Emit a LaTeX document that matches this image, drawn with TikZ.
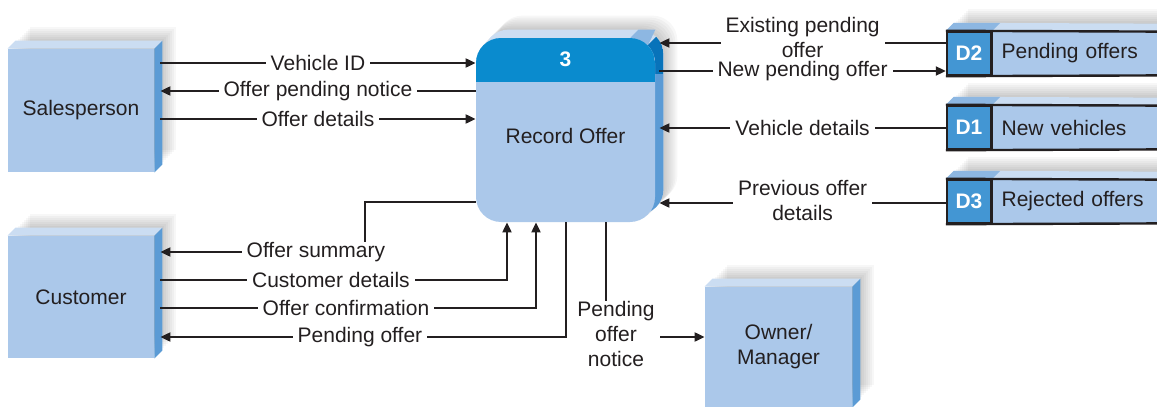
\documentclass[tikz,border=0pt]{standalone}
\usepackage{fontspec}
\setmainfont{Liberation Sans}
\usetikzlibrary{positioning,arrows.meta,backgrounds}

\definecolor{boxblue}{HTML}{ABC8EA}
\definecolor{sideblue}{HTML}{5B9BD5}
\definecolor{topblue}{HTML}{CBDDF2}
\definecolor{headblue}{HTML}{0A8BCE}
\definecolor{headside}{HTML}{0873BA}
\definecolor{idblue}{HTML}{4396D3}
\definecolor{idtop}{HTML}{8DB7E2}
\definecolor{linecol}{HTML}{231F20}

\begin{document}
\begin{tikzpicture}[
  x=0.5pt, y=-0.5pt,
  font=\fontsize{10.5}{12.5}\selectfont,
  ext/.style={rectangle, fill=boxblue, text=linecol, minimum width=73pt,
              minimum height=61.5pt, inner sep=0pt, align=center},
  procbox/.style={rectangle, rounded corners=12.5pt, fill=boxblue,
              minimum width=89.5pt, minimum height=92pt, inner sep=0pt,
              path picture={\fill[headblue, sharp corners] (path picture bounding box.north west)
                rectangle ([yshift=-22pt]path picture bounding box.north east);}},
  pnum/.style={text=white, font=\fontsize{10.5}{12.5}\selectfont\bfseries},
  sid/.style={rectangle, draw=linecol, line width=1.2pt, fill=idblue, text=white,
              font=\fontsize{10.5}{12.5}\selectfont\bfseries, minimum width=22pt,
              minimum height=21.5pt, inner sep=0pt},
  sname/.style={rectangle, fill=boxblue, text=linecol, minimum height=21.5pt,
              text width=74pt, inner xsep=4.5pt, inner ysep=0pt, align=left},
  storeline/.style={draw=linecol, line width=1.2pt},
  flow/.style={draw=linecol, line width=1pt, -{Triangle[length=5pt,width=4.5pt]}},
  lbl/.style={fill=white, text=linecol, inner xsep=2.5pt, inner ysep=0pt, align=center}
]
\useasboundingbox (0,0) rectangle (1157,407);

% external entities
\node[ext] (sales) at (81,110.5) {Salesperson};
\node[ext, minimum height=61pt] (cust) at (81,297) {Customer};
\node[ext, minimum width=73.5pt, minimum height=60pt] (owner) at (778.5,347) {Owner/\\Manager};

% process
\node[procbox] (proc) at (565.5,130) {};
\node[pnum] (pid) at ([yshift=-11pt]proc.north) {3};
\node[text=linecol] (pname) at ([yshift=-3pt]proc.center) {Record Offer};

% data stores
\node[sid] (d2) at (969,53.5) {D2};
\node[sname, right=0pt of d2] (d2n) {Pending offers};
\node[sid] (d1) at (969,127.5) {D1};
\node[sname, right=0pt of d1] (d1n) {New vehicles};
\node[sid] (d3) at (969,201.5) {D3};
\node[sname, right=0pt of d3] (d3n) {Rejected offers};

\foreach \ds/\dn in {d1/d1n, d2/d2n, d3/d3n}{
  \draw[storeline] (\ds.north west) -- (\dn.north east);
  \draw[storeline] (\ds.south west) -- (\dn.south east);
  \draw[storeline] (\ds.north east) -- (\ds.south east);
}

% depth and shadows
\begin{scope}[on background layer]
  \foreach \b in {sales,cust,owner}{
    \foreach \s in {1,...,11}
      \fill[black, opacity=0.03] ([shift={(\s pt,\s pt)}]\b.north west)
        rectangle ([shift={(\s pt,\s pt)}]\b.south east);
    \fill[topblue] (\b.north west) -- ++(4pt,4pt) -- ([shift={(4pt,4pt)}]\b.north east)
      -- (\b.north east) -- cycle;
    \fill[sideblue] (\b.north east) -- ++(4pt,4pt) -- ([shift={(4pt,4pt)}]\b.south east)
      -- (\b.south east) -- cycle;
  }
  \foreach \ds/\dn in {d1/d1n, d2/d2n, d3/d3n}{
    \foreach \s in {1,...,11}
      \fill[black, opacity=0.03] ([shift={(\s pt,\s pt)}]\ds.north west)
        rectangle (\dn.north east);
    \fill[topblue] (\ds.north west) -- ++(4pt,4pt) -- ([yshift=4pt]\dn.north east)
      -- (\dn.north east) -- cycle;
    \fill[idtop] (\ds.north west) -- ++(4pt,4pt) -- ([shift={(4pt,4pt)}]\ds.north east)
      -- (\ds.north east) -- cycle;
  }
  \foreach \s in {1,...,11}
    \fill[black, opacity=0.03, rounded corners=12.5pt] ([shift={(\s pt,\s pt)}]proc.north west)
      rectangle ([shift={(\s pt,\s pt)}]proc.south east);
  \fill[topblue, rounded corners=12.5pt] ([shift={(4pt,4pt)}]proc.north west)
    rectangle ([shift={(4pt,4pt)}]proc.south east);
  \fill[idtop] ([xshift=-12.5pt]proc.north east) -- ([shift={(-8.5pt,4pt)}]proc.north east)
    -- ([shift={(0pt,4pt)}]proc.north east) -- ([shift={(-3.66pt,-3.66pt)}]proc.north east) -- cycle;
  \begin{scope}
    \clip ([shift={(-18.66pt,-18.66pt)}]proc.north east) -- ([shift={(11.34pt,11.34pt)}]proc.north east)
      -- ([shift={(11.34pt,-203.66pt)}]proc.north east) -- cycle;
    \fill[sideblue, rounded corners=12.5pt,
      path picture={\fill[headside, sharp corners] (path picture bounding box.north west)
        rectangle ([yshift=-22pt]path picture bounding box.north east);}]
      ([shift={(4pt,4pt)}]proc.north west) rectangle ([shift={(4pt,4pt)}]proc.south east);
  \end{scope}
\end{scope}

\coordinate (sales-r) at ([xshift=3pt]sales.east);
\coordinate (cust-r) at ([xshift=3pt]cust.east);
\coordinate (proc-r) at ([xshift=2pt]proc.east);

% salesperson flows
\draw[flow] (sales-r |- 0,63) -- node[lbl]{Vehicle ID} (proc.west |- 0,63);
\draw[flow] (proc.west |- 0,91) -- node[lbl]{Offer pending notice} (sales-r |- 0,91);
\draw[flow] (sales-r |- 0,119) -- node[lbl]{Offer details} (proc.west |- 0,119);

% customer flows
\draw[flow] (proc.west |- 0,202) -| (365,252) -- node[lbl, pos=0.24]{Offer summary} (cust-r |- 0,252);
\draw[flow] (cust-r |- 0,280) -| node[lbl, pos=0.246]{Customer details} (proc.south -| 507,0);
\draw[flow] (cust-r |- 0,308) -| node[lbl, pos=0.247]{Offer confirmation} (proc.south -| 536,0);
\draw[flow] (proc.south -| 566,0) |- node[lbl, pos=0.754]{Pending offer} (cust-r |- 0,337);
\draw[flow] (proc.south -| 606,0) |- node[lbl, pos=0.5, xshift=5pt, yshift=1.5pt]{Pending\\offer\\notice} (owner.west |- 0,337);

% data store flows
\draw[flow] (d2.west |- 0,43) -- node[lbl, yshift=3pt]{Existing pending\\offer} (proc-r |- 0,43);
\draw[flow] (proc-r |- 0,71) -- node[lbl]{New pending offer} (d2.west |- 0,71);
\draw[flow] (d1.west |- 0,128) -- node[lbl]{Vehicle details} (proc-r |- 0,128);
\draw[flow] (d3.west |- 0,203) -- node[lbl, yshift=1.25pt]{Previous offer\\details} (proc-r |- 0,203);
\end{tikzpicture}
\end{document}
